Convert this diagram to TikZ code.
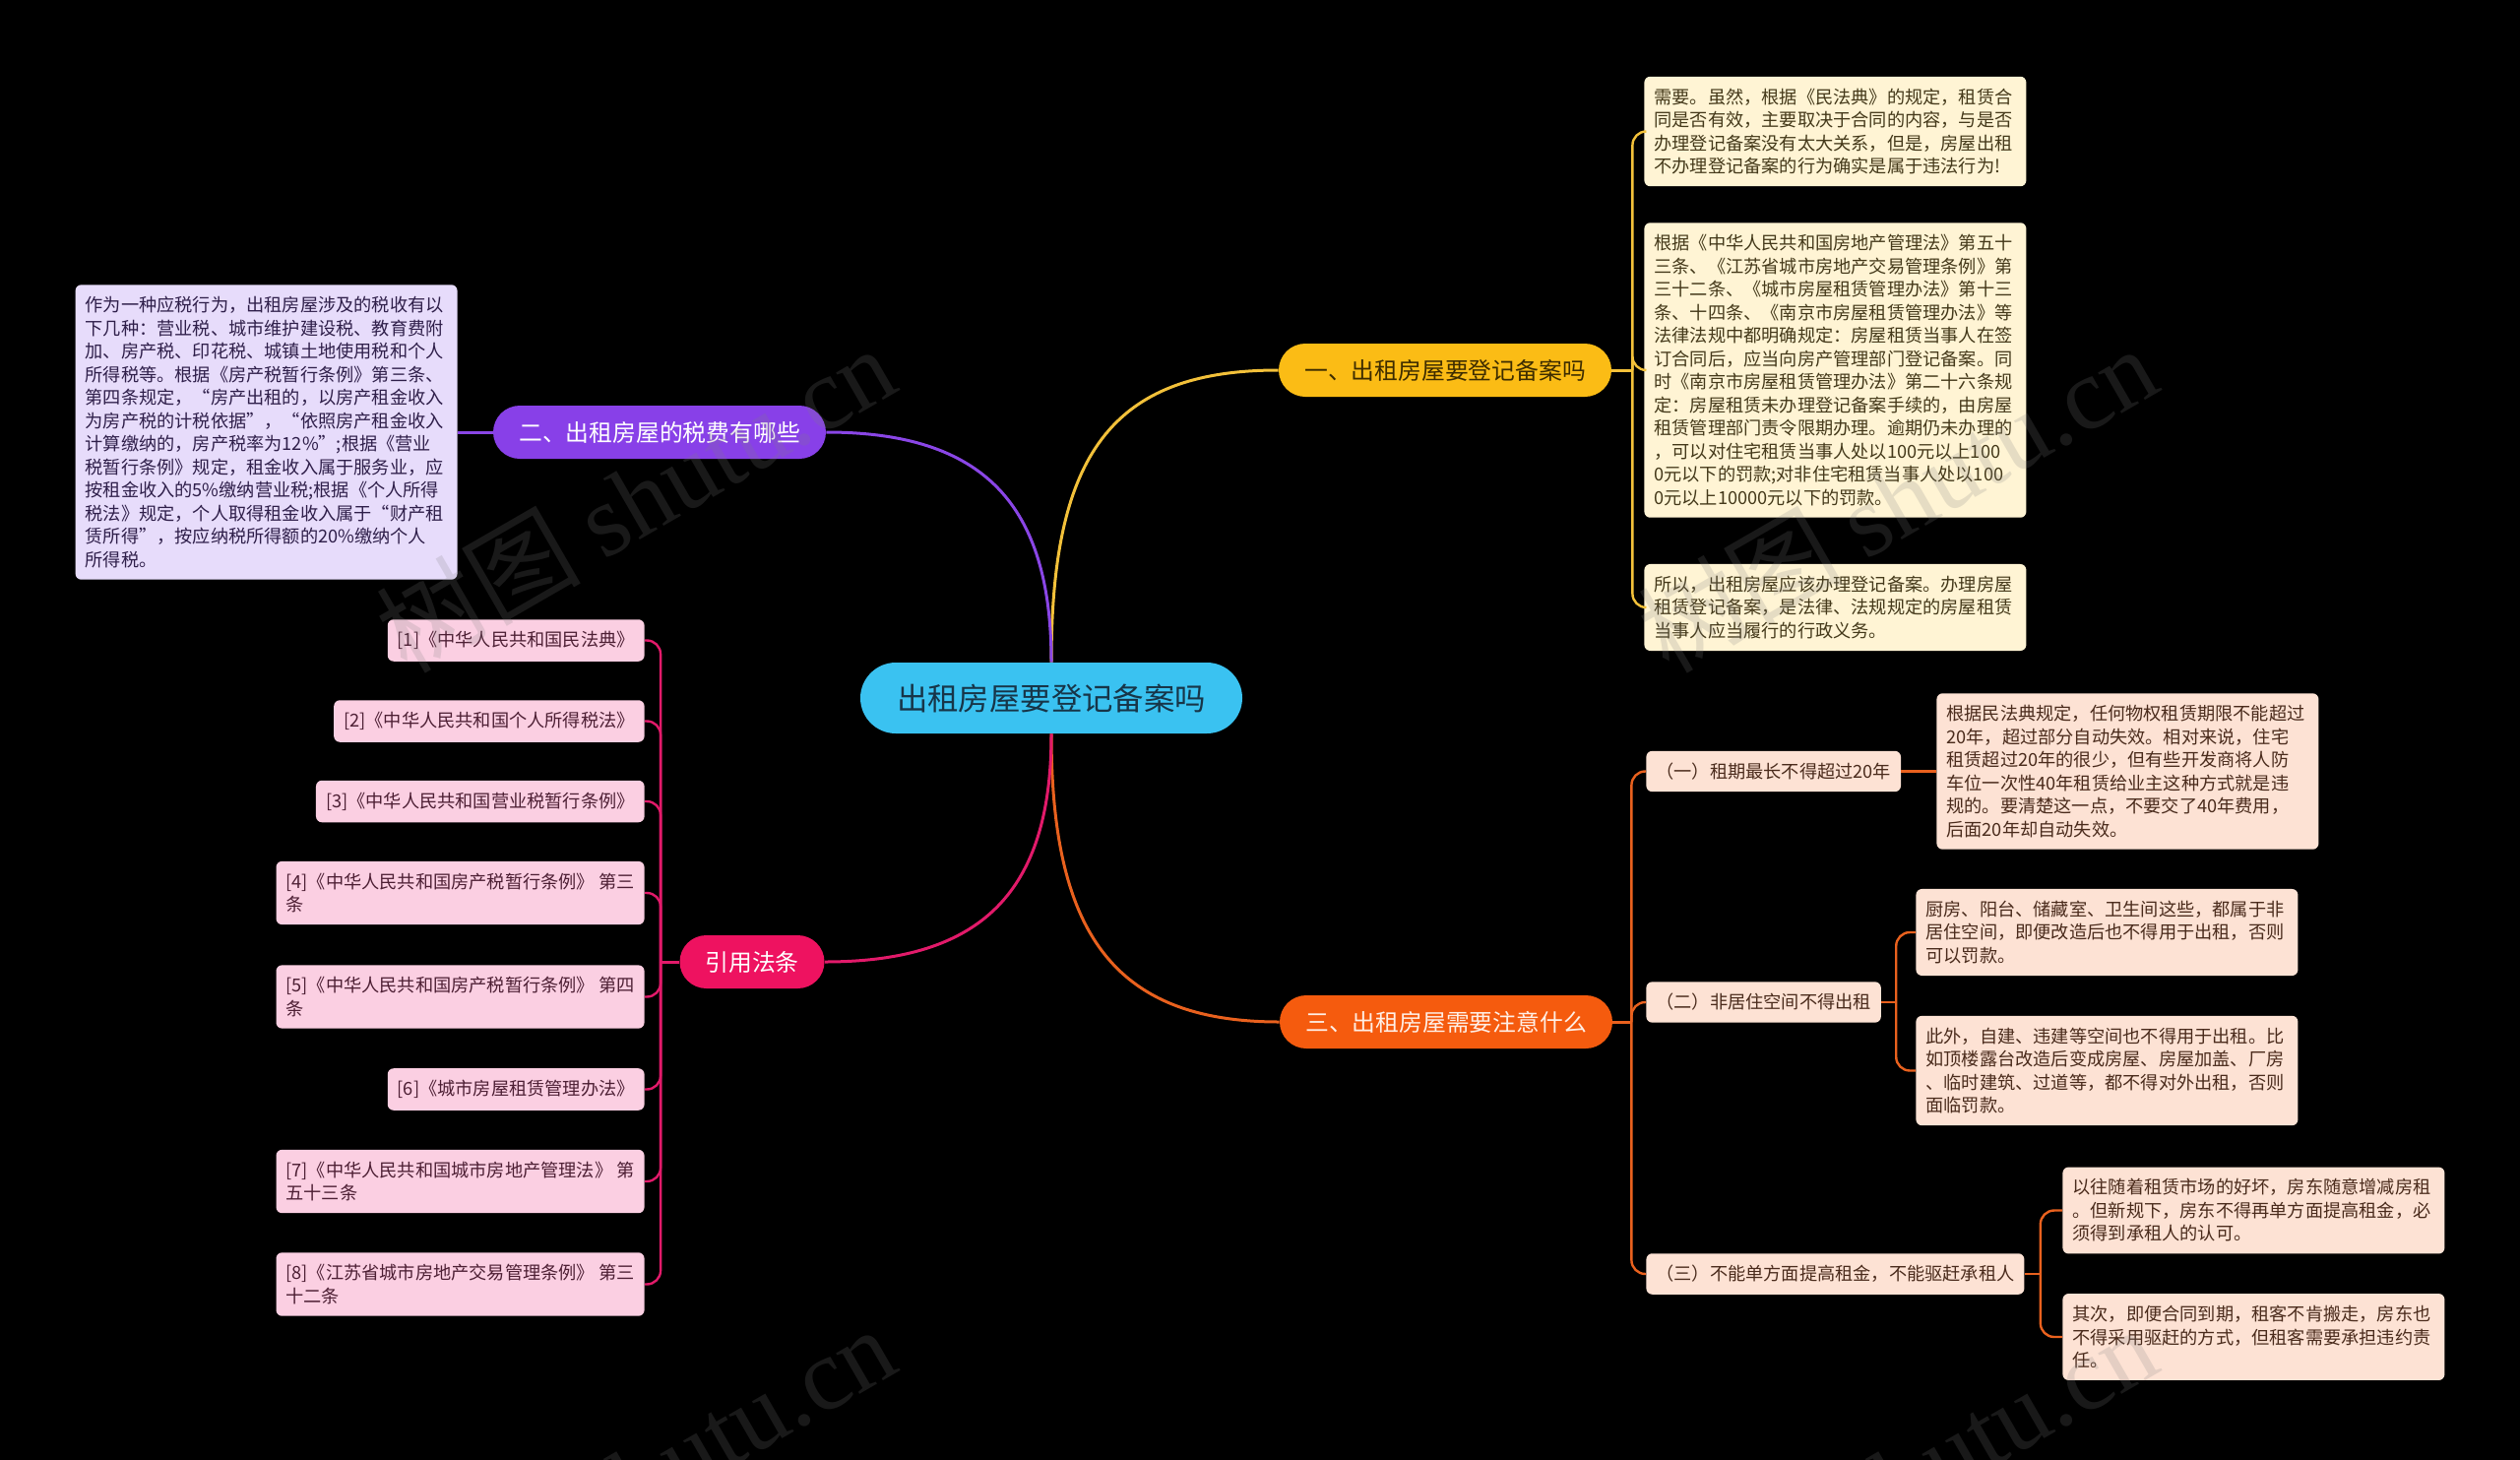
\documentclass[tikz,border=0pt]{standalone}
\usepackage{fontspec}
\setmainfont{Noto Sans CJK SC}
\newfontfamily\wmfont{Liberation Serif}
\definecolor{rootfill}{HTML}{3AC2F1}
\definecolor{rootink}{HTML}{173548}
\definecolor{goldfill}{HTML}{FBBC15}
\definecolor{goldink}{HTML}{3D2C00}
\definecolor{goldline}{HTML}{F3C13A}
\definecolor{goldleaf}{HTML}{FFF4D4}
\definecolor{goldleafink}{HTML}{44391A}
\definecolor{purplefill}{HTML}{8840E8}
\definecolor{purpleline}{HTML}{8A46E6}
\definecolor{purpleleaf}{HTML}{E7DCFB}
\definecolor{purpleink}{HTML}{2F1F4A}
\definecolor{orangefill}{HTML}{F55B0E}
\definecolor{orangehead}{HTML}{FFEFE6}
\definecolor{orangeline}{HTML}{E9611E}
\definecolor{orangeleaf}{HTML}{FDE2D4}
\definecolor{orangeink}{HTML}{4A2B1C}
\definecolor{pinkfill}{HTML}{EE1260}
\definecolor{pinkline}{HTML}{E21A6A}
\definecolor{pinkleaf}{HTML}{FBCFE2}
\definecolor{pinkink}{HTML}{4D1F34}
\begin{document}
\begin{tikzpicture}[x=0.5pt,y=-0.5pt,
    pill/.style={rounded corners=13.5pt,minimum height=27pt,minimum width=169pt,inner sep=0pt,font=\fontsize{11.9}{14}\selectfont},
    leaf/.style={rounded corners=3pt,align=left,inner xsep=5pt,inner ysep=6pt,font=\fontsize{9.1}{11.75}\selectfont},
    wide/.style={leaf,text width=184pt},
    link/.style={line width=1.5pt},
    sublink/.style={line width=1.2pt,rounded corners=7pt}]
  \fill[black] (0,0) rectangle (2560,1483);
  \useasboundingbox (0,0) rectangle (2560,1483);
  \node[pill,fill=rootfill,text=rootink,minimum width=194pt,minimum height=36pt,rounded corners=18pt,font=\fontsize{15.7}{18}\selectfont] (root) at (1068,709) {出租房屋要登记备案吗};
  \node[pill,fill=goldfill,text=goldink] (reg) at (1468,376) {一、出租房屋要登记备案吗};
  \node[pill,fill=purplefill,text=white] (tax) at (670,439) {二、出租房屋的税费有哪些};
  \node[pill,fill=orangefill,text=orangehead] (note) at (1469,1038) {三、出租房屋需要注意什么};
  \node[pill,fill=pinkfill,text=white,minimum width=73.5pt] (law) at (764,977) {引用法条};
  \draw[link,goldline] (root.north) .. controls +(0,-210) and +(-170,0) .. (reg.west);
  \draw[link,purpleline] (root.north) .. controls +(0,-160) and +(160,0) .. (tax.east);
  \draw[link,orangeline] (root.south) .. controls +(0,200) and +(-170,0) .. (note.west);
  \draw[link,pinkline] (root.south) .. controls +(0,160) and +(160,0) .. (law.east);
  \node[wide,fill=goldleaf,text=goldleafink,anchor=west] (reg1) at (1670,133.5) {需要。虽然，根据《民法典》的规定，租赁合\\
    同是否有效，主要取决于合同的内容，与是否\\
    办理登记备案没有太大关系，但是，房屋出租\\
    不办理登记备案的行为确实是属于违法行为!};
  \node[wide,fill=goldleaf,text=goldleafink,anchor=west] (reg2) at (1670,376) {根据《中华人民共和国房地产管理法》第五十\\
    三条、《江苏省城市房地产交易管理条例》第\\
    三十二条、《城市房屋租赁管理办法》第十三\\
    条、十四条、《南京市房屋租赁管理办法》等\\
    法律法规中都明确规定：房屋租赁当事人在签\\
    订合同后，应当向房产管理部门登记备案。同\\
    时《南京市房屋租赁管理办法》第二十六条规\\
    定：房屋租赁未办理登记备案手续的，由房屋\\
    租赁管理部门责令限期办理。逾期仍未办理的\\
    ，可以对住宅租赁当事人处以100元以上100\\
    0元以下的罚款;对非住宅租赁当事人处以100\\
    0元以上10000元以下的罚款。};
  \node[wide,fill=goldleaf,text=goldleafink,anchor=west] (reg3) at (1670,617) {所以，出租房屋应该办理登记备案。办理房屋\\
    租赁登记备案，是法律、法规规定的房屋租赁\\
    当事人应当履行的行政义务。};
  \draw[link,goldline] (reg.east) -- ++(21,0) coordinate (regj);
  \foreach \n in {reg1,reg2,reg3} \draw[sublink,goldline] (regj) |- (\n.west);
  \node[wide,fill=purpleleaf,text=purpleink,anchor=east] (tax1) at (465,439) {作为一种应税行为，出租房屋涉及的税收有以\\
    下几种：营业税、城市维护建设税、教育费附\\
    加、房产税、印花税、城镇土地使用税和个人\\
    所得税等。根据《房产税暂行条例》第三条、\\
    第四条规定，“房产出租的，以房产租金收入\\
    为房产税的计税依据”，“依照房产租金收入\\
    计算缴纳的，房产税率为12\%”;根据《营业\\
    税暂行条例》规定，租金收入属于服务业，应\\
    按租金收入的5\%缴纳营业税;根据《个人所得\\
    税法》规定，个人取得租金收入属于“财产租\\
    赁所得”，按应纳税所得额的20\%缴纳个人\\
    所得税。};
  \draw[link,purpleline] (tax.west) -- (tax1.east);
  \node[leaf,fill=orangeleaf,text=orangeink,anchor=west] (note1) at (1672,783.5) {（一）租期最长不得超过20年};
  \node[leaf,fill=orangeleaf,text=orangeink,anchor=west] (note2) at (1672,1018) {（二）非居住空间不得出租};
  \node[leaf,fill=orangeleaf,text=orangeink,anchor=west] (note3) at (1672,1294) {（三）不能单方面提高租金，不能驱赶承租人};
  \draw[link,orangeline] (note.east) -- ++(19,0) coordinate (notej);
  \foreach \n in {note1,note2,note3} \draw[sublink,orangeline] (notej) |- (\n.west);
  \node[wide,fill=orangeleaf,text=orangeink,anchor=west] (note1a) at (1967,783.5) {根据民法典规定，任何物权租赁期限不能超过\\
    20年，超过部分自动失效。相对来说，住宅\\
    租赁超过20年的很少，但有些开发商将人防\\
    车位一次性40年租赁给业主这种方式就是违\\
    规的。要清楚这一点，不要交了40年费用，\\
    后面20年却自动失效。};
  \node[wide,fill=orangeleaf,text=orangeink,anchor=west] (note2a) at (1946,947) {厨房、阳台、储藏室、卫生间这些，都属于非\\
    居住空间，即便改造后也不得用于出租，否则\\
    可以罚款。};
  \node[wide,fill=orangeleaf,text=orangeink,anchor=west] (note2b) at (1946,1087.5) {此外，自建、违建等空间也不得用于出租。比\\
    如顶楼露台改造后变成房屋、房屋加盖、厂房\\
    、临时建筑、过道等，都不得对外出租，否则\\
    面临罚款。};
  \node[wide,fill=orangeleaf,text=orangeink,anchor=west] (note3a) at (2095,1229.5) {以往随着租赁市场的好坏，房东随意增减房租\\
    。但新规下，房东不得再单方面提高租金，必\\
    须得到承租人的认可。};
  \node[wide,fill=orangeleaf,text=orangeink,anchor=west] (note3b) at (2095,1358) {其次，即便合同到期，租客不肯搬走，房东也\\
    不得采用驱赶的方式，但租客需要承担违约责\\
    任。};
  \draw[sublink,orangeline] (note1.east) -- (note1a.west);
  \draw[sublink,orangeline] (note2.east) -- ++(15,0) coordinate (note2j);
  \foreach \n in {note2a,note2b} \draw[sublink,orangeline] (note2j) |- (\n.west);
  \draw[sublink,orangeline] (note3.east) -- ++(16,0) coordinate (note3j);
  \foreach \n in {note3a,note3b} \draw[sublink,orangeline] (note3j) |- (\n.west);
  \foreach \i/\y/\t in {1/650.5/{[1]《中华人民共和国民法典》},
      2/732.5/{[2]《中华人民共和国个人所得税法》},
      3/814/{[3]《中华人民共和国营业税暂行条例》},
      4/907/{[4]《中华人民共和国房产税暂行条例》 第三\\条},
      5/1012.5/{[5]《中华人民共和国房产税暂行条例》 第四\\条},
      6/1106.5/{[6]《城市房屋租赁管理办法》},
      7/1200/{[7]《中华人民共和国城市房地产管理法》 第\\五十三条},
      8/1304.5/{[8]《江苏省城市房地产交易管理条例》 第三\\十二条}}
    \node[leaf,fill=pinkleaf,text=pinkink,anchor=east] (law\i) at (655,\y) {\t};
  \draw[link,pinkline] (law.west) -- ++(-19,0) coordinate (lawj);
  \foreach \i in {1,...,8} \draw[sublink,pinkline] (lawj) |- (law\i.east);
  \foreach \x/\y [count=\i] in {645/506,1927/506,645/1502,1927/1502}
    \node[rotate=30,text=gray,opacity=0.2,font=\fontsize{52}{52}\selectfont] (wm\i) at (\x,\y) {树图 {\wmfont shutu.cn}};
\end{tikzpicture}
\end{document}
